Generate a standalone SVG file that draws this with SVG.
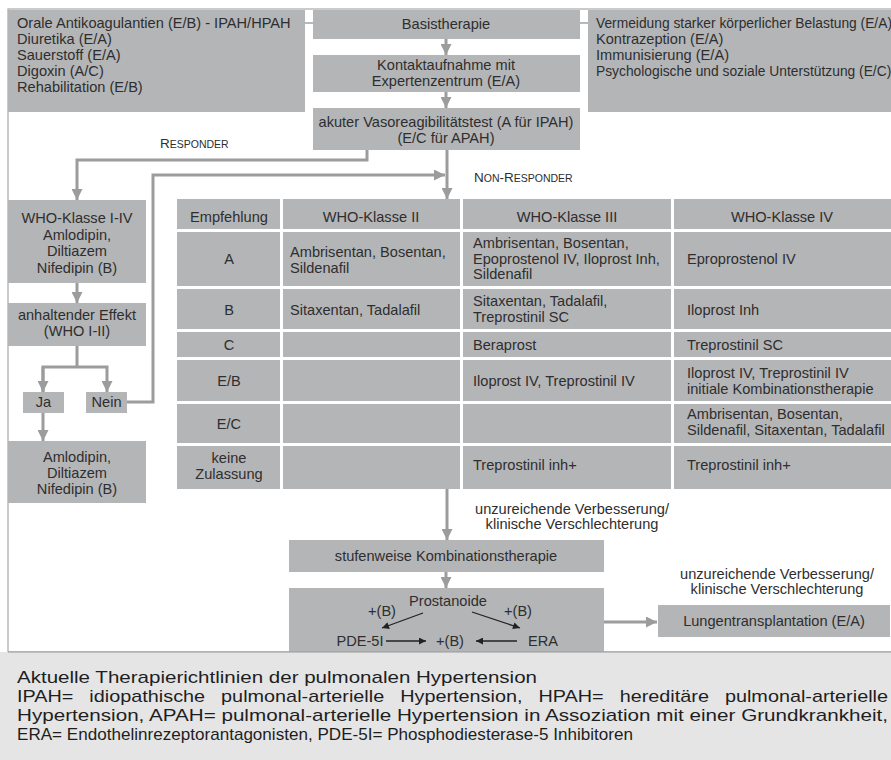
<svg xmlns="http://www.w3.org/2000/svg" width="891" height="760" viewBox="0 0 891 760">
<defs>
<style>
.box{fill:#b4b5b7}
.t{font-family:"Liberation Sans",Arial,sans-serif;font-size:14.6px;fill:#2e2e2e}
.n{font-size:13.8px}
.c{text-anchor:middle}
.con{fill:none;stroke:#9c9c9c;stroke-width:3}
.thin{fill:none;stroke:#8a8a8a;stroke-width:1.2}
.blk{fill:none;stroke:#222;stroke-width:1.3}
.sep{fill:#ffffff}
.cap{font-family:"Liberation Sans",Arial,sans-serif;font-size:17px;fill:#1e1e1e}
</style>
<marker id="ag" viewBox="0 0 10 10" refX="10" refY="5" markerWidth="11" markerHeight="11" markerUnits="userSpaceOnUse" orient="auto">
<path d="M0,0 L10,5 L0,10 z" fill="#9c9c9c"/>
</marker>
<marker id="ab" viewBox="0 0 10 10" refX="10" refY="5" markerWidth="8" markerHeight="7" markerUnits="userSpaceOnUse" orient="auto">
<path d="M0,0 L10,5 L0,10 z" fill="#222"/>
</marker>
</defs>
<rect x="0" y="0" width="891" height="760" fill="#ffffff"/>
<rect x="8" y="9" width="900" height="643" fill="none" stroke="#a9a9a9" stroke-width="1.2"/>

<g id="connectors">
<line class="thin" x1="305" y1="23" x2="313" y2="23"/>
<line class="thin" x1="580" y1="23" x2="588" y2="23"/>
<line class="con" x1="446" y1="39" x2="446" y2="55" marker-end="url(#ag)"/>
<line class="con" x1="446" y1="92" x2="446" y2="108" marker-end="url(#ag)"/>
<line class="con" x1="447" y1="150" x2="447" y2="199" marker-end="url(#ag)"/>
<polyline class="con" points="367,150 367,160 77,160 77,200" marker-end="url(#ag)"/>
<polyline class="con" points="127,402 153,402 153,175 445,175" marker-end="url(#ag)"/>
<line class="con" x1="77" y1="283" x2="77" y2="303" marker-end="url(#ag)"/>
<polyline class="con" points="77,346 77,367"/>
<polyline class="con" points="43,392 43,367 107,367 107,392" marker-end="url(#ag)"/>
<line class="con" x1="43" y1="367" x2="43" y2="392" marker-end="url(#ag)"/>
<line class="con" x1="43" y1="413" x2="43" y2="441" marker-end="url(#ag)"/>
<line class="con" x1="447" y1="489" x2="447" y2="540" marker-end="url(#ag)"/>
<line class="con" x1="446" y1="572" x2="446" y2="588" marker-end="url(#ag)"/>
<line class="con" x1="604" y1="622" x2="657" y2="622" marker-end="url(#ag)"/>
</g>

<g id="n-begleit">
<rect class="box" x="8" y="10" width="297" height="102"/>
<text class="t" x="17" y="28">Orale Antikoagulantien (E/B) - IPAH/HPAH</text>
<text class="t" x="17" y="44">Diuretika (E/A)</text>
<text class="t" x="17" y="60">Sauerstoff (E/A)</text>
<text class="t" x="17" y="76">Digoxin (A/C)</text>
<text class="t" x="17" y="92">Rehabilitation (E/B)</text>
</g>

<g id="n-basis">
<rect class="box" x="313" y="10" width="267" height="29"/>
<text class="t c" x="446" y="29">Basistherapie</text>
</g>

<g id="n-allg">
<rect class="box" x="588" y="10" width="303" height="102"/>
<text class="t n" x="596" y="28">Vermeidung starker körperlicher Belastung (E/A)</text>
<text class="t" x="596" y="44">Kontrazeption (E/A)</text>
<text class="t" x="596" y="60">Immunisierung (E/A)</text>
<text class="t n" x="596" y="76">Psychologische und soziale Unterstützung (E/C)</text>
</g>

<g id="n-kontakt">
<rect class="box" x="313" y="55" width="267" height="37"/>
<text class="t c" x="446" y="70">Kontaktaufnahme mit</text>
<text class="t c" x="446" y="86">Expertenzentrum (E/A)</text>
</g>

<g id="n-vaso">
<rect class="box" x="313" y="108" width="267" height="42"/>
<text class="t c" x="446" y="127">akuter Vasoreagibilitätstest (A für IPAH)</text>
<text class="t c" x="446" y="143">(E/C für APAH)</text>
</g>

<g id="labels">
<text class="t" x="160" y="148" style="font-size:13.5px">R<tspan style="font-size:10.5px">ESPONDER</tspan></text>
<text class="t" x="474" y="182" style="font-size:13.5px">N<tspan style="font-size:10.5px">ON</tspan>-R<tspan style="font-size:10.5px">ESPONDER</tspan></text>
<text class="t c" x="572" y="514">unzureichende Verbesserung/</text>
<text class="t c" x="572" y="529">klinische Verschlechterung</text>
<text class="t c" x="777" y="579">unzureichende Verbesserung/</text>
<text class="t c" x="777" y="594">klinische Verschlechterung</text>
</g>

<g id="n-who">
<rect class="box" x="8" y="200" width="138" height="83"/>
<text class="t c" x="77" y="223">WHO-Klasse I-IV</text>
<text class="t c" x="77" y="240">Amlodipin,</text>
<text class="t c" x="77" y="256">Diltiazem</text>
<text class="t c" x="77" y="273">Nifedipin (B)</text>
</g>

<g id="n-effekt">
<rect class="box" x="8" y="303" width="138" height="43"/>
<text class="t c" x="77" y="320">anhaltender Effekt</text>
<text class="t c" x="77" y="336">(WHO I-II)</text>
</g>

<g id="n-ja">
<rect class="box" x="23" y="392" width="41" height="21"/>
<text class="t c" x="43.5" y="407">Ja</text>
</g>

<g id="n-nein">
<rect class="box" x="86" y="392" width="41" height="21"/>
<text class="t c" x="106.5" y="407">Nein</text>
</g>

<g id="n-amlo">
<rect class="box" x="8" y="441" width="138" height="62"/>
<text class="t c" x="77" y="462">Amlodipin,</text>
<text class="t c" x="77" y="478">Diltiazem</text>
<text class="t c" x="77" y="494">Nifedipin (B)</text>
</g>

<g id="n-table">
<rect class="box" x="177" y="199" width="714" height="290"/>
<rect class="sep" x="177" y="229" width="714" height="3"/>
<rect class="sep" x="177" y="286" width="714" height="3"/>
<rect class="sep" x="177" y="329" width="714" height="3"/>
<rect class="sep" x="177" y="357" width="714" height="3"/>
<rect class="sep" x="177" y="401" width="714" height="3"/>
<rect class="sep" x="177" y="443" width="714" height="3"/>
<rect class="sep" x="280" y="199" width="3" height="290"/>
<rect class="sep" x="460" y="199" width="3" height="290"/>
<rect class="sep" x="671" y="199" width="3" height="290"/>
<text class="t c" x="229" y="222">Empfehlung</text>
<text class="t c" x="371" y="222">WHO-Klasse II</text>
<text class="t c" x="567" y="222">WHO-Klasse III</text>
<text class="t c" x="782" y="222">WHO-Klasse IV</text>
<text class="t c" x="229" y="264">A</text>
<text class="t" x="290" y="257">Ambrisentan, Bosentan,</text>
<text class="t" x="290" y="273">Sildenafil</text>
<text class="t" x="473" y="248">Ambrisentan, Bosentan,</text>
<text class="t" x="473" y="264">Epoprostenol IV, Iloprost Inh,</text>
<text class="t" x="473" y="279">Sildenafil</text>
<text class="t" x="687" y="264">Eproprostenol IV</text>
<text class="t c" x="229" y="315">B</text>
<text class="t" x="290" y="315">Sitaxentan, Tadalafil</text>
<text class="t" x="473" y="306">Sitaxentan, Tadalafil,</text>
<text class="t" x="473" y="322">Treprostinil SC</text>
<text class="t" x="687" y="315">Iloprost Inh</text>
<text class="t c" x="229" y="350">C</text>
<text class="t" x="473" y="350">Beraprost</text>
<text class="t" x="687" y="350">Treprostinil SC</text>
<text class="t c" x="229" y="386">E/B</text>
<text class="t" x="473" y="386">Iloprost IV, Treprostinil IV</text>
<text class="t" x="687" y="378">Iloprost IV, Treprostinil IV</text>
<text class="t" x="687" y="394">initiale Kombinationstherapie</text>
<text class="t c" x="229" y="429">E/C</text>
<text class="t" x="687" y="419">Ambrisentan, Bosentan,</text>
<text class="t" x="687" y="435">Sildenafil, Sitaxentan, Tadalafil</text>
<text class="t c" x="229" y="463">keine</text>
<text class="t c" x="229" y="479">Zulassung</text>
<text class="t" x="473" y="470">Treprostinil inh+</text>
<text class="t" x="687" y="470">Treprostinil inh+</text>
</g>

<g id="n-stufen">
<rect class="box" x="289" y="540" width="315" height="32"/>
<text class="t c" x="446" y="561">stufenweise Kombinationstherapie</text>
</g>

<g id="n-kombi">
<rect class="box" x="289" y="588" width="315" height="64"/>
<text class="t c" x="448" y="606">Prostanoide</text>
<text class="t c" x="382" y="616">+(B)</text>
<text class="t c" x="518" y="616">+(B)</text>
<text class="t c" x="360" y="646">PDE-5I</text>
<text class="t c" x="450" y="646">+(B)</text>
<text class="t c" x="543" y="646">ERA</text>
<line class="blk" x1="423" y1="613" x2="382" y2="628" marker-end="url(#ab)"/>
<line class="blk" x1="472" y1="612" x2="520" y2="628" marker-end="url(#ab)"/>
<line class="blk" x1="386" y1="641" x2="426" y2="641" marker-end="url(#ab)"/>
<line class="blk" x1="517" y1="641" x2="476" y2="641" marker-end="url(#ab)"/>
</g>

<g id="n-lunge">
<rect class="box" x="658" y="605" width="232" height="32"/>
<text class="t c" x="774" y="626">Lungentransplantation (E/A)</text>
</g>

<g id="caption">
<rect x="0" y="652" width="891" height="108" fill="#e5e5e6"/>
<line x1="8" y1="652" x2="891" y2="652" stroke="#9a9a9a" stroke-width="1.2"/>
<text class="cap" x="17" y="683" textLength="520" lengthAdjust="spacingAndGlyphs">Aktuelle Therapierichtlinien der pulmonalen Hypertension</text>
<text class="cap" x="17" y="702" textLength="871" lengthAdjust="spacingAndGlyphs" word-spacing="9">IPAH= idiopathische pulmonal-arterielle Hypertension, HPAH= hereditäre pulmonal-arterielle</text>
<text class="cap" x="17" y="721" textLength="871" lengthAdjust="spacingAndGlyphs">Hypertension, APAH= pulmonal-arterielle Hypertension in Assoziation mit einer Grundkrankheit,</text>
<text class="cap" x="17" y="740" textLength="616" lengthAdjust="spacingAndGlyphs">ERA= Endothelinrezeptorantagonisten, PDE-5I= Phosphodiesterase-5 Inhibitoren</text>
</g>
</svg>
